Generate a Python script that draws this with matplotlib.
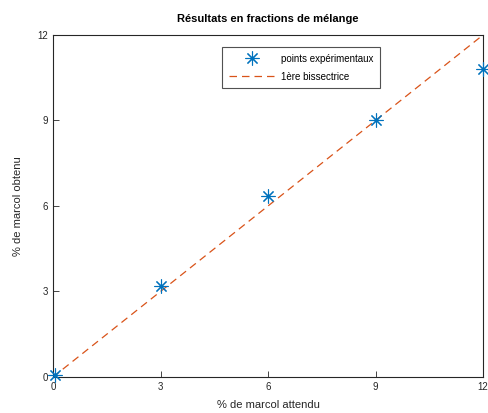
import matplotlib
matplotlib.use("Agg")
import matplotlib.pyplot as plt

expected = [0.05, 3, 6, 9, 12]
obtained = [0.07, 3.2, 6.35, 9.0, 10.8]
bis = [0, 12]
ticks = [0, 3, 6, 9, 12]

plt.rcParams['font.family'] = ['Liberation Sans', 'DejaVu Sans']
fig = plt.figure(figsize=(4.88, 4.13), dpi=100)
ax = fig.add_axes([0.1086, 0.0872, 0.8812, 0.8281])
ax.plot(expected, obtained, linestyle='none', marker=(8, 2, 0), markersize=10,
        markeredgewidth=0.8, color='#0072BD', label='points expérimentaux', clip_on=False, zorder=4)
ax.plot(bis, bis, linestyle=(0, (6, 4)), color='#D95319', linewidth=0.9, label='1ère bissectrice')
ax.set_xlim(0, 12)
ax.set_ylim(0, 12)
ax.set_xticks(ticks)
ax.set_yticks(ticks)
ax.tick_params(direction='in', labelsize=7, length=4, width=0.6, colors='#262626', top=False, right=False)
for s in ax.spines.values():
    s.set_linewidth(0.8)
    s.set_color('#262626')
ax.set_xlabel('% de marcol attendu', fontsize=8, color='#262626', labelpad=6)
ax.set_ylabel('% de marcol obtenu', fontsize=8, color='#262626', labelpad=10)
ax.set_title('Résultats en fractions de mélange', fontsize=8, fontweight='bold', pad=9)
leg = ax.legend(loc='upper left', bbox_to_anchor=(0.393, 0.965), borderaxespad=0, fontsize=7, frameon=True,
                fancybox=False, edgecolor='#262626', handlelength=4.7, borderpad=0.7,
                labelspacing=0.8, handletextpad=0.7)
leg.get_frame().set_linewidth(0.8)
fig.savefig('out.png', dpi=100)
